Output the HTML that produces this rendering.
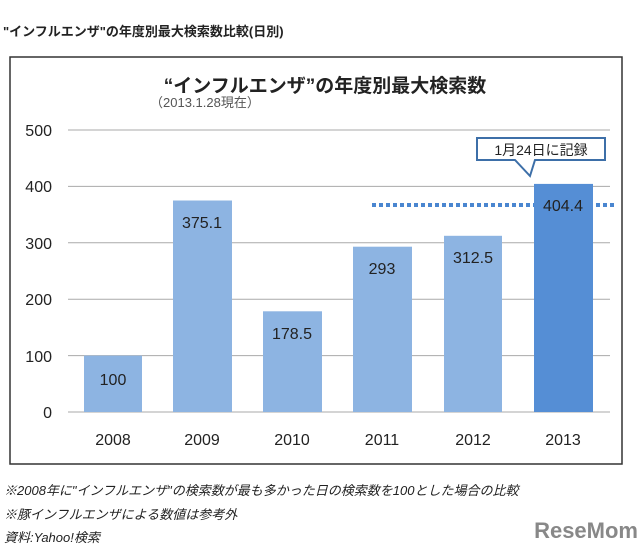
<!DOCTYPE html>
<html><head><meta charset="utf-8"><style>
body{margin:0;background:#fff;width:640px;height:551px;overflow:hidden}
svg text{font-family:"Liberation Sans","Noto Sans CJK JP",sans-serif}
</style></head><body>
<svg width="640" height="551" xmlns="http://www.w3.org/2000/svg">
<text x="3" y="36" font-size="13" font-weight="bold" fill="#222">"インフルエンザ"の年度別最大検索数比較(日別)</text>
<rect x="10" y="57" width="612" height="407" fill="#fff" stroke="#333" stroke-width="1.5"/>
<text x="325" y="92" font-size="19" font-weight="bold" text-anchor="middle" fill="#222">“インフルエンザ”の年度別最大検索数</text>
<text x="150" y="107" font-size="13" fill="#555">（2013.1.28現在）</text>
<g stroke="#aaa" stroke-width="1">
<line x1="68" y1="130" x2="610" y2="130"/>
<line x1="68" y1="186.4" x2="610" y2="186.4"/>
<line x1="68" y1="242.8" x2="610" y2="242.8"/>
<line x1="68" y1="299.2" x2="610" y2="299.2"/>
<line x1="68" y1="355.6" x2="610" y2="355.6"/>
<line x1="68" y1="412" x2="610" y2="412"/>
</g>
<g font-size="16" fill="#222" text-anchor="end">
<text x="52" y="136">500</text><text x="52" y="192">400</text><text x="52" y="249">300</text>
<text x="52" y="305">200</text><text x="52" y="362">100</text><text x="52" y="418">0</text>
</g>
<g fill="#8db4e2">
<rect x="84" y="355.6" width="58" height="56.4"/>
<rect x="173" y="200.5" width="59" height="211.5"/>
<rect x="263" y="311.3" width="59" height="100.7"/>
<rect x="353" y="246.7" width="59" height="165.3"/>
<rect x="444" y="235.8" width="58" height="176.2"/>
</g>
<rect x="534" y="183.9" width="59" height="228.1" fill="#558ed5"/>
<line x1="372" y1="205" x2="534" y2="205" stroke="#4a86d0" stroke-width="4" stroke-dasharray="4,3"/>
<line x1="596" y1="205" x2="616" y2="205" stroke="#4a86d0" stroke-width="4" stroke-dasharray="4,3"/>
<g font-size="16" fill="#222" text-anchor="middle">
<text x="113" y="385">100</text><text x="202" y="228">375.1</text><text x="292" y="339">178.5</text>
<text x="382" y="274">293</text><text x="473" y="263">312.5</text><text x="563" y="211">404.4</text>
</g>
<path d="M477,138 H605 V160 H535 L530,176 L515,160 H477 Z" fill="#fff" stroke="#3d6fa8" stroke-width="2"/>
<text x="541" y="155" font-size="14" text-anchor="middle" fill="#222">1月24日に記録</text>
<g font-size="16" fill="#222" text-anchor="middle">
<text x="113" y="445">2008</text><text x="202" y="445">2009</text><text x="292" y="445">2010</text>
<text x="382" y="445">2011</text><text x="473" y="445">2012</text><text x="563" y="445">2013</text>
</g>
<g font-size="13" font-style="italic" fill="#222">
<text x="4" y="495">※2008年に"インフルエンザ"の検索数が最も多かった日の検索数を100とした場合の比較</text>
<text x="4" y="519">※豚インフルエンザによる数値は参考外</text>
<text x="4" y="542">資料:Yahoo!検索</text>
</g>
<text x="638" y="538" font-size="22" font-weight="bold" text-anchor="end" fill="#888">ReseMom</text>
</svg>
</body></html>
